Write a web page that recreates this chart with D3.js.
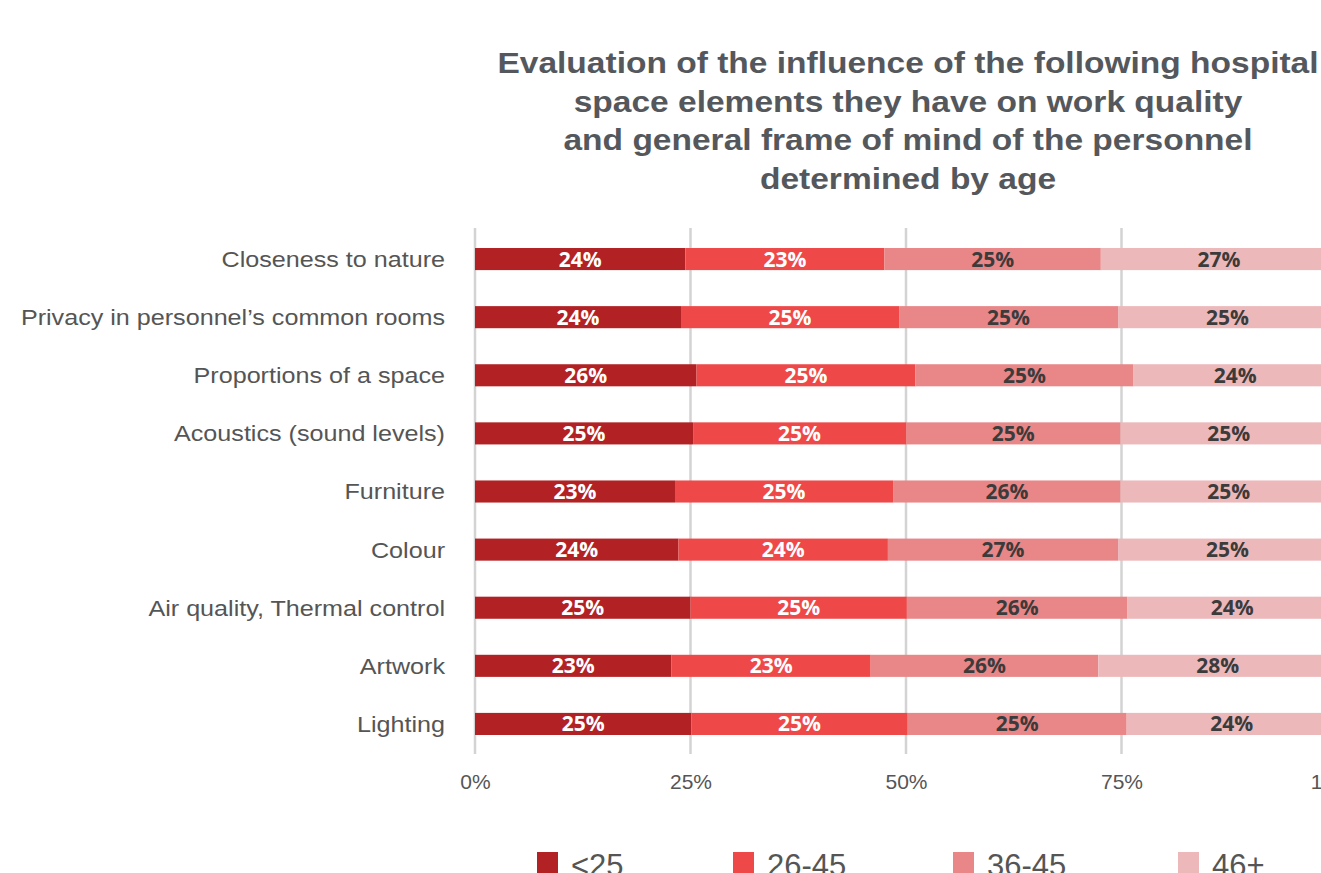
<!DOCTYPE html>
<html>
<head>
<meta charset="utf-8">
<script src="https://cdn.jsdelivr.net/npm/d3@7"></script>
<style>
  html, body { margin: 0; padding: 0; background: #fff; overflow: hidden; }
  svg { display: block; }
</style>
</head>
<body>
<svg id="chart" width="1321" height="873"></svg>
<script>
// Survey items, top to bottom
const categories = [
  "Closeness to nature",
  "Privacy in personnel\u2019s common rooms",
  "Proportions of a space",
  "Acoustics (sound levels)",
  "Furniture",
  "Colour",
  "Air quality, Thermal control",
  "Artwork",
  "Lighting"
];

// Age groups
const ageGroups = ["<25", "26-45", "36-45", "46+"];

// Share of answers per age group (percent of each row)
const under25   = [24.4, 23.9, 25.7, 25.3, 23.2, 23.6, 25.0, 22.8, 25.1];
const age26to45 = [23.1, 25.3, 25.4, 24.7, 25.3, 24.3, 25.1, 23.1, 25.1];
const age36to45 = [25.1, 25.4, 25.3, 24.9, 26.4, 26.7, 25.6, 26.4, 25.4];
const age46plus = [27.4, 25.4, 23.6, 25.1, 25.1, 25.4, 24.3, 27.7, 24.4];

const axisTicks = [0, 25, 50, 75, 100];

const colors = ["#b22124", "#ef4848", "#e98688", "#ecb8ba"];
const labelColors = ["#ffffff", "#ffffff", "#3b3b3b", "#3b3b3b"];

const seriesValues = [under25, age26to45, age36to45, age46plus];

const rows = categories.map((c, i) => {
  const r = { category: c };
  ageGroups.forEach((g, k) => { r[g] = seriesValues[k][i]; });
  return r;
});

const stacked = d3.stack().keys(ageGroups)(rows);

const svg = d3.select("#chart");

const x = d3.scaleLinear().domain([0, 100]).range([475, 1337]);
const y = d3.scaleBand().domain(categories).range([230, 753]).paddingInner(0.62).paddingOuter(0.31);

// Title (wide bold face, centred over the plot)
const titleLines = [
  "Evaluation of the influence of the following hospital",
  "space elements they have on work quality",
  "and general frame of mind of the personnel",
  "determined by age"
];
svg.append("g")
  .attr("transform", "translate(908,0) scale(1.118,1)")
  .selectAll("text")
  .data(titleLines)
  .join("text")
  .attr("x", 0)
  .attr("y", (d, i) => 73 + i * 38.7)
  .attr("text-anchor", "middle")
  .attr("font-family", "'Liberation Sans', Arial, sans-serif")
  .attr("font-weight", "bold")
  .attr("font-size", 30)
  .attr("fill", "#54585c")
  .text(d => d);

// Vertical grid lines
svg.append("g")
  .selectAll("line")
  .data(axisTicks)
  .join("line")
  .attr("x1", d => x(d))
  .attr("x2", d => x(d))
  .attr("y1", 228)
  .attr("y2", 754)
  .attr("stroke", "#d3d3d3")
  .attr("stroke-width", 2.5);

// Stacked bars
const layer = svg.append("g")
  .selectAll("g")
  .data(stacked)
  .join("g")
  .attr("fill", (d, i) => colors[i]);

layer.selectAll("rect")
  .data(d => d)
  .join("rect")
  .attr("x", d => x(d[0]))
  .attr("y", d => y(d.data.category))
  .attr("width", d => x(d[1]) - x(d[0]))
  .attr("height", y.bandwidth());

// Value labels
const labels = svg.append("g")
  .selectAll("g")
  .data(stacked)
  .join("g")
  .attr("fill", (d, i) => labelColors[i]);

labels.selectAll("text")
  .data(d => d.map(v => ({ v, key: d.key })))
  .join("text")
  .attr("x", d => (x(d.v[0]) + x(d.v[1])) / 2)
  .attr("y", d => y(d.v.data.category) + y.bandwidth() / 2 + 7.5)
  .attr("text-anchor", "middle")
  .attr("font-family", "'Open Sans', sans-serif")
  .attr("font-weight", 700)
  .attr("font-size", 21)
  .text(d => Math.round(d.v.data[d.key]) + "%");

// Category labels (right-aligned against the axis, slightly widened)
svg.append("g")
  .attr("transform", "translate(445,0) scale(1.17,1)")
  .selectAll("text")
  .data(categories)
  .join("text")
  .attr("x", 0)
  .attr("y", d => y(d) + y.bandwidth() / 2 + 8)
  .attr("text-anchor", "end")
  .attr("font-family", "'Liberation Sans', Arial, sans-serif")
  .attr("font-size", 21.5)
  .attr("fill", "#555555")
  .text(d => d);

// Bottom axis
const xAxis = d3.axisBottom(x)
  .tickValues(axisTicks)
  .tickFormat(d => d + "%")
  .tickSize(0)
  .tickPadding(0);

const axisG = svg.append("g")
  .attr("transform", "translate(0,789)")
  .call(xAxis);
axisG.select(".domain").remove();
axisG.selectAll("text")
  .attr("dy", 0)
  .attr("font-family", "'Liberation Sans Narrow', 'Liberation Sans', sans-serif")
  .attr("font-size", 21)
  .attr("fill", "#555555");

// Legend
const legendX = [537, 733, 953, 1178];
const legend = svg.append("g")
  .selectAll("g")
  .data(ageGroups)
  .join("g")
  .attr("transform", (d, i) => `translate(${legendX[i]},852)`);
legend.append("rect")
  .attr("width", 21)
  .attr("height", 24)
  .attr("fill", (d, i) => colors[i]);
legend.append("text")
  .attr("x", 34)
  .attr("y", 24)
  .attr("font-family", "'Liberation Sans Narrow', 'Liberation Sans', sans-serif")
  .attr("font-size", 31)
  .attr("fill", "#555555")
  .text(d => d);
</script>
</body>
</html>
